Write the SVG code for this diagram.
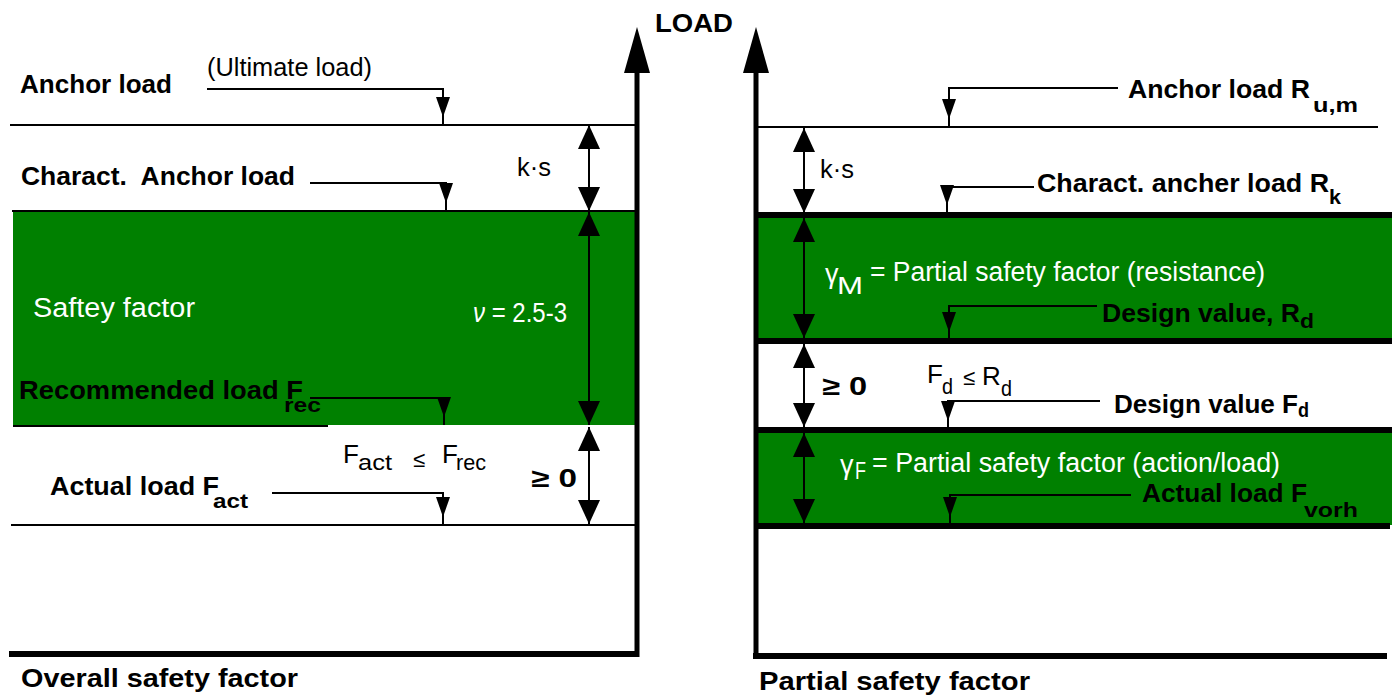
<svg xmlns="http://www.w3.org/2000/svg" width="1396" height="698" viewBox="0 0 1396 698">
<style>
text{font-family:"Liberation Sans",Arial,sans-serif;}
.b{font-weight:bold;font-size:26px;fill:#000;}
.bs{font-weight:bold;font-size:21px;}
.r{font-size:26px;fill:#000;}
.rs{font-size:22px;}
.w{font-size:27px;fill:#fff;}
.ws{font-size:23px;}
.thin{stroke:#000;stroke-width:2;fill:none;}
.thick{stroke:#000;stroke-width:6;fill:none;}
.axis{stroke:#000;stroke-width:5;fill:none;marker-end:url(#axisHead);}
.dim{stroke:#000;stroke-width:2;fill:none;marker-start:url(#dimHead);marker-end:url(#dimHead);}
.lead{stroke:#000;stroke-width:2;fill:none;marker-end:url(#leadHead);}
.band{fill:#008000;}
</style>
<defs>
<marker id="axisHead" viewBox="0 0 46 26" refX="0" refY="13" markerWidth="46" markerHeight="26" markerUnits="userSpaceOnUse" orient="auto">
<path d="M0,0 L46,13 L0,26 Z" fill="#000"/>
</marker>
<marker id="dimHead" viewBox="0 0 24 22" refX="24" refY="11" markerWidth="24" markerHeight="22" markerUnits="userSpaceOnUse" orient="auto-start-reverse">
<path d="M0,0 L24,11 L0,22 Z" fill="#000"/>
</marker>
<marker id="leadHead" viewBox="0 0 28 14" refX="28" refY="7" markerWidth="28" markerHeight="14" markerUnits="userSpaceOnUse" orient="auto">
<path d="M0,0 L20,7 L0,14 Z" fill="#000"/>
</marker>
</defs>

<g id="overall-panel">
  <rect id="left-band" class="band" x="13" y="211" width="622" height="214"/>
  <line class="thin" x1="10" y1="125" x2="635" y2="125"/>
  <line class="thin" x1="12" y1="211" x2="635" y2="211"/>
  <line class="thin" x1="13" y1="426" x2="328" y2="426"/>
  <line class="thin" x1="11" y1="525" x2="635" y2="525"/>
  <line class="thick" x1="9" y1="654" x2="639" y2="654" stroke-width="5"/>
  <line id="left-axis" class="axis" x1="637" y1="657" x2="637" y2="73"/>
</g>

<g id="partial-panel">
  <rect id="band-resistance" class="band" x="758" y="216" width="634" height="124"/>
  <rect id="band-action" class="band" x="758" y="431" width="634" height="94"/>
  <line class="thin" x1="758" y1="127" x2="1378" y2="127"/>
  <line class="thick" x1="756" y1="215" x2="1392" y2="215"/>
  <line class="thick" x1="756" y1="341" x2="1392" y2="341"/>
  <line class="thick" x1="756" y1="430" x2="1392" y2="430"/>
  <line class="thick" x1="756" y1="526" x2="1390" y2="526"/>
  <line class="thick" x1="753" y1="656" x2="1387" y2="656" stroke-width="5"/>
  <line id="right-axis" class="axis" x1="756" y1="658" x2="756" y2="73"/>
</g>

<g id="connectors">
  <path class="dim" d="M589,125 V211"/>
  <path class="dim" d="M589,212 V425"/>
  <path class="dim" d="M589,427 V524"/>
  <path class="dim" d="M804,128 V213"/>
  <path class="dim" d="M804,218 V338"/>
  <path class="dim" d="M804,344 V427"/>
  <path class="dim" d="M804,433 V523"/>
  <path class="lead" d="M207,89 H443 V125"/>
  <path class="lead" d="M310,183 H446 V211"/>
  <path class="lead" d="M310,398 H444 V425"/>
  <path class="lead" d="M272,493 H443 V525"/>
  <path class="lead" d="M1118,88 H949 V127"/>
  <path class="lead" d="M1034,187 H947 V213"/>
  <path class="lead" d="M1097,306 H949 V340"/>
  <path class="lead" d="M1100,401 H948 V429"/>
  <path class="lead" d="M1131,495 H950 V525"/>
</g>

<g id="label-load"><text class="b" x="655" y="32" textLength="78" lengthAdjust="spacingAndGlyphs">LOAD</text></g>

<g id="label-anchor-load">
  <text class="b" x="20" y="93" textLength="152" lengthAdjust="spacingAndGlyphs">Anchor load</text>
  <text class="r" x="207" y="76" font-size="22" textLength="165" lengthAdjust="spacingAndGlyphs">(Ultimate load)</text>
</g>
<g id="label-charact"><text class="b" x="21" y="185" textLength="274" lengthAdjust="spacingAndGlyphs" xml:space="preserve">Charact.  Anchor load</text></g>
<g id="label-ks-left"><text class="r" x="517" y="176" font-size="22" textLength="34" lengthAdjust="spacingAndGlyphs">k·s</text></g>
<g id="label-safety"><text class="w" x="33" y="317" textLength="162" lengthAdjust="spacingAndGlyphs">Saftey factor</text></g>
<g id="label-nu"><text class="w" x="473" y="322" font-size="24" textLength="94" lengthAdjust="spacingAndGlyphs"><tspan font-style="italic">ν</tspan> = 2.5-3</text></g>
<g id="label-recommended">
  <text class="b"><tspan x="19" y="399" textLength="284" lengthAdjust="spacingAndGlyphs">Recommended load F</tspan><tspan class="bs" x="284" y="412" textLength="37" lengthAdjust="spacingAndGlyphs">rec</tspan></text>
</g>
<g id="label-fact-le-frec">
  <text class="r"><tspan x="343" y="463">F</tspan><tspan class="rs" x="358" y="470" textLength="34" lengthAdjust="spacingAndGlyphs">act</tspan><tspan class="rs" x="413" y="467">≤</tspan><tspan x="442" y="463">F</tspan><tspan class="rs" x="456" y="470" textLength="30" lengthAdjust="spacingAndGlyphs">rec</tspan></text>
</g>
<g id="label-ge0-left"><text class="b" x="531" y="487" textLength="46" lengthAdjust="spacingAndGlyphs">≥ 0</text></g>
<g id="label-actual-left">
  <text class="b"><tspan x="50" y="495" textLength="169" lengthAdjust="spacingAndGlyphs">Actual load F</tspan><tspan class="bs" x="213" y="508" textLength="35" lengthAdjust="spacingAndGlyphs">act</tspan></text>
</g>
<g id="label-overall"><text class="b" x="21" y="687" textLength="277" lengthAdjust="spacingAndGlyphs">Overall safety factor</text></g>

<g id="label-anchor-rum">
  <text class="b"><tspan x="1128" y="98" textLength="182" lengthAdjust="spacingAndGlyphs">Anchor load R</tspan><tspan class="bs" x="1313" y="112" textLength="45" lengthAdjust="spacingAndGlyphs">u,m</tspan></text>
</g>
<g id="label-ks-right"><text class="r" x="820" y="178" font-size="22" textLength="34" lengthAdjust="spacingAndGlyphs">k·s</text></g>
<g id="label-charact-rk">
  <text class="b"><tspan x="1037" y="192" textLength="292" lengthAdjust="spacingAndGlyphs">Charact. ancher load R</tspan><tspan class="bs" x="1329" y="204" textLength="12" lengthAdjust="spacingAndGlyphs">k</tspan></text>
</g>
<g id="label-gamma-m">
  <text class="w"><tspan x="825" y="283">γ</tspan><tspan class="ws" x="837" y="294" textLength="26" lengthAdjust="spacingAndGlyphs">M</tspan><tspan x="870" y="281" textLength="395" lengthAdjust="spacingAndGlyphs">= Partial safety factor (resistance)</tspan></text>
</g>
<g id="label-design-rd">
  <text class="b"><tspan x="1102" y="322" textLength="198" lengthAdjust="spacingAndGlyphs">Design value, R</tspan><tspan class="bs" x="1300" y="328" textLength="14" lengthAdjust="spacingAndGlyphs">d</tspan></text>
</g>
<g id="label-ge0-right"><text class="b" x="822" y="395" textLength="45" lengthAdjust="spacingAndGlyphs">≥ 0</text></g>
<g id="label-fd-le-rd">
  <text class="r" font-size="24"><tspan x="927" y="383">F</tspan><tspan class="rs" x="942" y="394" textLength="11" lengthAdjust="spacingAndGlyphs">d</tspan><tspan class="rs" x="963" y="385">≤</tspan><tspan x="982" y="385">R</tspan><tspan class="rs" x="1001" y="396" textLength="11" lengthAdjust="spacingAndGlyphs">d</tspan></text>
</g>
<g id="label-design-fd">
  <text class="b"><tspan x="1114" y="413" textLength="184" lengthAdjust="spacingAndGlyphs">Design value F</tspan><tspan class="bs" x="1298" y="417" textLength="11" lengthAdjust="spacingAndGlyphs">d</tspan></text>
</g>
<g id="label-gamma-f">
  <text class="w"><tspan x="840" y="474">γ</tspan><tspan class="ws" x="855" y="479" textLength="11" lengthAdjust="spacingAndGlyphs">F</tspan><tspan x="872" y="472" textLength="408" lengthAdjust="spacingAndGlyphs">= Partial safety factor (action/load)</tspan></text>
</g>
<g id="label-actual-right">
  <text class="b"><tspan x="1142" y="502" textLength="165" lengthAdjust="spacingAndGlyphs">Actual load F</tspan><tspan class="bs" x="1304" y="517" textLength="54" lengthAdjust="spacingAndGlyphs">vorh</tspan></text>
</g>
<g id="label-partial"><text class="b" x="759" y="690" textLength="271" lengthAdjust="spacingAndGlyphs">Partial safety factor</text></g>
</svg>
